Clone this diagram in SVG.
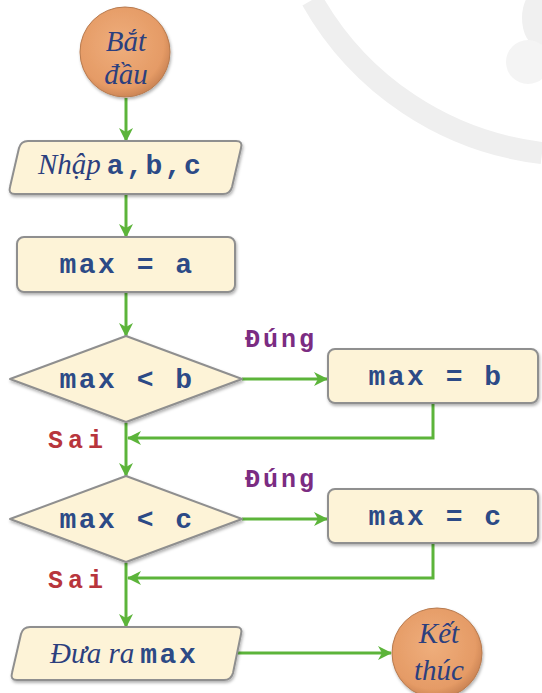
<svg xmlns="http://www.w3.org/2000/svg" width="542" height="693" viewBox="0 0 542 693">
<defs>
<style>
.box{fill:#fdf3d7;stroke:#8f8f8f;stroke-width:2;filter:url(#sh)}
.term{fill:url(#og);stroke:#b77a4e;stroke-width:1;filter:url(#sh)}
.mono{font-family:"Liberation Mono",monospace;font-weight:bold;font-size:28px;fill:#2c4a86;letter-spacing:2.5px}
.ital{font-family:"Liberation Serif",serif;font-style:italic;font-size:29px;fill:#2c3f7e}
.lbl{font-family:"Liberation Mono",monospace;font-weight:bold;font-size:25px}
.yes{fill:#7b2c82;letter-spacing:3px}
.no{fill:#b8353c;letter-spacing:5px}
.edge{fill:none;stroke:#5cb43a;stroke-width:3;marker-end:url(#ah)}
</style>
<radialGradient id="og" cx="0.45" cy="0.42" r="0.6">
<stop offset="0" stop-color="#efae7c"/>
<stop offset="0.8" stop-color="#e59b66"/>
<stop offset="1" stop-color="#c98253"/>
</radialGradient>
<filter id="sh" x="-10%" y="-10%" width="125%" height="130%">
<feDropShadow dx="1" dy="2" stdDeviation="1.5" flood-color="#000" flood-opacity="0.3"/>
</filter>
<marker id="ah" viewBox="0 0 14 14" refX="13" refY="7" markerWidth="14" markerHeight="14" markerUnits="userSpaceOnUse" orient="auto">
<path d="M0,0 L14,7 L0,14 L4,7 Z" fill="#5cb43a"/>
</marker>
</defs>
<rect width="542" height="693" fill="#ffffff"/>
<g id="watermark">
<path d="M312,0 A305,305 0 0 0 542,153" fill="none" stroke="#efefef" stroke-width="22"/>
<ellipse cx="538" cy="18" rx="16" ry="28" fill="#f0f0f0"/>
<ellipse cx="528" cy="62" rx="22" ry="22" fill="#f4f4f4"/>
</g>
<g id="connectors">
<path class="edge" d="M126,98 V141"/>
<path class="edge" d="M126,195 V237"/>
<path class="edge" d="M126,293 V336"/>
<path class="edge" d="M242,379 H327"/>
<path class="edge" d="M433,404 V438 H128"/>
<path class="edge" d="M126,423 V476"/>
<path class="edge" d="M242,519 H327"/>
<path class="edge" d="M433,544 V578 H128"/>
<path class="edge" d="M126,563 V627"/>
<path class="edge" d="M238,653 H391"/>
<text class="lbl yes" x="245" y="347">Đúng</text>
<text class="lbl no" x="48" y="448">Sai</text>
<text class="lbl yes" x="245" y="487">Đúng</text>
<text class="lbl no" x="48" y="588">Sai</text>
</g>
<g id="start">
<circle class="term" cx="125" cy="52" r="45"/>
<text class="ital" x="126" y="51" text-anchor="middle">Bắt</text>
<text class="ital" x="126" y="84" text-anchor="middle">đầu</text>
</g>
<g id="input">
<path class="box" d="M28,141 H236 Q243,141 241,148 L232,187 Q230,194 223,194 H15 Q8,194 10,187 L19,148 Q21,141 28,141 Z"/>
<text x="38" y="174"><tspan class="ital">Nhập</tspan><tspan class="mono" dx="6">a,b,c</tspan></text>
</g>
<g id="init">
<rect class="box" x="17" y="237" width="218" height="55" rx="7"/>
<text class="mono" x="127" y="273" text-anchor="middle">max = a</text>
</g>
<g id="cond1">
<path class="box" d="M10,379 L126,336 L242,379 L126,422 Z" stroke-linejoin="round"/>
<text class="mono" x="127" y="388" text-anchor="middle">max &lt; b</text>
</g>
<g id="setb">
<rect class="box" x="328" y="349" width="210" height="54" rx="7"/>
<text class="mono" x="436" y="385" text-anchor="middle">max = b</text>
</g>
<g id="cond2">
<path class="box" d="M10,519 L126,476 L242,519 L126,562 Z" stroke-linejoin="round"/>
<text class="mono" x="127" y="528" text-anchor="middle">max &lt; c</text>
</g>
<g id="setc">
<rect class="box" x="328" y="489" width="210" height="54" rx="7"/>
<text class="mono" x="436" y="525" text-anchor="middle">max = c</text>
</g>
<g id="output">
<path class="box" d="M30,627 H236 Q243,627 241,634 L233,673 Q231,680 224,680 H17 Q10,680 12,673 L21,634 Q23,627 30,627 Z"/>
<text x="50" y="663"><tspan class="ital">Đưa ra</tspan><tspan class="mono" dx="6">max</tspan></text>
</g>
<g id="end">
<circle class="term" cx="437" cy="653" r="45"/>
<text class="ital" x="439" y="643" text-anchor="middle">Kết</text>
<text class="ital" x="439" y="680" text-anchor="middle">thúc</text>
</g>
</svg>
